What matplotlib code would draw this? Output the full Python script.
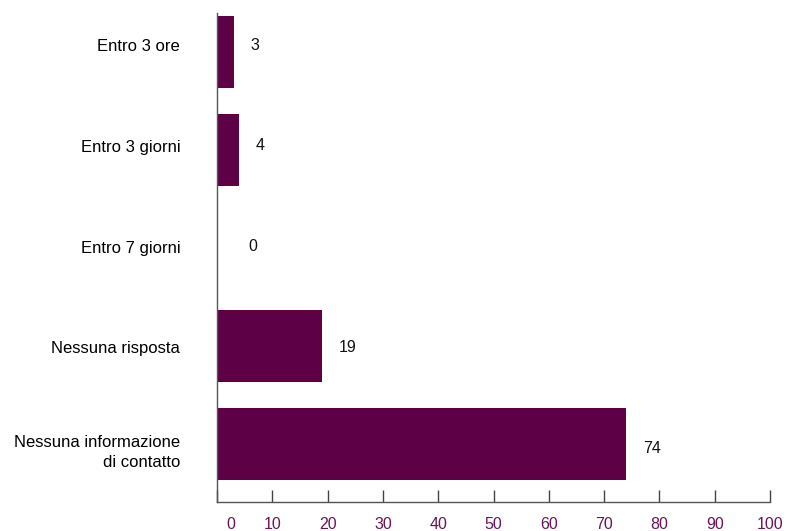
import matplotlib
matplotlib.use("Agg")
import matplotlib.pyplot as plt
import matplotlib.transforms as mtransforms

categories = ["Entro 3 ore", "Entro 3 giorni", "Entro 7 giorni", "Nessuna risposta",
              "Nessuna informazione\ndi contatto"]
values = [3, 4, 0, 19, 74]
xticks = [0, 10, 20, 30, 40, 50, 60, 70, 80, 90, 100]

bar_color = "#5e0046"
tick_color = "#6b1457"

plt.rcParams["font.family"] = ["Liberation Sans", "DejaVu Sans"]

fig = plt.figure(figsize=(7.86, 5.31), dpi=100)
ax = fig.add_axes([217/786, 1-502/531, (770-217)/786, (502-13)/531])

ypos = list(range(len(categories)))
ax.barh(ypos, values, height=0.725, color=bar_color)
ax.set_ylim(4.592, -0.398)
ax.set_xlim(0, 100)

# text rows sit on a slightly wider grid than the bars
text_y = [i * 1.028 - 0.07 for i in ypos]

ax.set_yticks(text_y)
ax.set_yticklabels(categories, fontsize=12, ha="right", multialignment="right", linespacing=1.45)
ax.tick_params(axis="y", length=0, pad=26.5)

ax.set_xticks(xticks)
ax.set_xticklabels([str(t) for t in xticks], fontsize=11.5, color=tick_color)
ax.tick_params(axis="x", direction="in", length=8.6, width=1, color="#444444", pad=10.5)
first = ax.get_xticklabels()[0]
first.set_transform(first.get_transform() + mtransforms.ScaledTranslation(14/100, 0, fig.dpi_scale_trans))

for s in ["top", "right"]:
    ax.spines[s].set_visible(False)
for s in ["left", "bottom"]:
    ax.spines[s].set_color("#555555")
    ax.spines[s].set_linewidth(1)

for ty, v in zip(text_y, values):
    ax.text(max(v + 3, 5.6), ty, str(v), va="center", ha="left", fontsize=11.5, color="#111111")

fig.savefig("out.png", dpi=100)
